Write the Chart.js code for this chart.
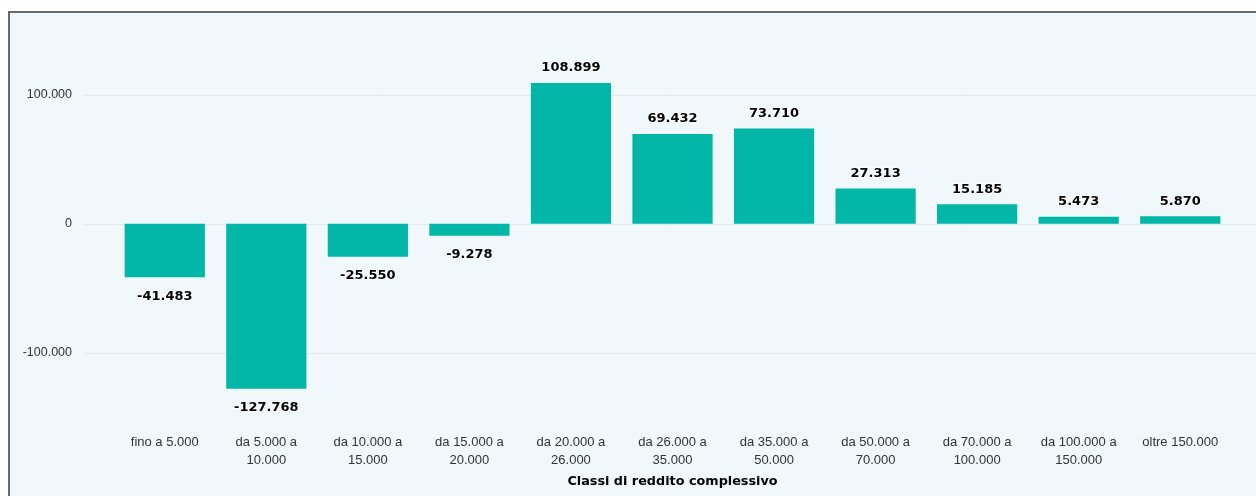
<!DOCTYPE html>
<html>
<head>
<meta charset="utf-8">
<script src="https://cdn.jsdelivr.net/npm/chart.js@4/dist/chart.umd.min.js"></script>
<style>
  html, body { margin: 0; padding: 0; background: #ffffff; overflow: hidden; }
  #frame {
    position: absolute; left: 8px; top: 11px; width: 1300px; height: 520px;
    background: #f0f8fc; border-left: 2px solid #6a6a6a; border-top: 2px solid #6a6a6a;
  }
  #wrap { position: absolute; left: 0; top: 0; width: 1256px; height: 496px; }
</style>
</head>
<body>
<div id="frame"></div>
<div id="wrap"><canvas id="myChart" width="1256" height="496"></canvas></div>
<script>
// Income classes (x axis)
var classLabels = [
    ['fino a 5.000'],
    ['da 5.000 a', '10.000'],
    ['da 10.000 a', '15.000'],
    ['da 15.000 a', '20.000'],
    ['da 20.000 a', '26.000'],
    ['da 26.000 a', '35.000'],
    ['da 35.000 a', '50.000'],
    ['da 50.000 a', '70.000'],
    ['da 70.000 a', '100.000'],
    ['da 100.000 a', '150.000'],
    ['oltre 150.000']
];
// Values per class
var values = [-41483, -127768, -25550, -9278, 108899, 69432, 73710, 27313, 15185, 5473, 5870];
// Y ticks shown
var yTicks = [-100000, 0, 100000];

function fmt(v) {
    var s = Math.abs(Math.round(v)).toString().replace(/\B(?=(\d{3})+(?!\d))/g, '.');
    return (v < 0 ? '-' : '') + s;
}

// horizontal grid lines, running past the plot on both sides
var gridPlugin = {
    id: 'gridLines',
    beforeDatasetsDraw: function(chart) {
        var c = chart.ctx, y = chart.scales.y;
        c.save();
        c.strokeStyle = '#e4e8ea';
        c.lineWidth = 1;
        yTicks.forEach(function(t) {
            var py = Math.round(y.getPixelForValue(t)) + 0.5;
            c.beginPath();
            c.moveTo(chart.chartArea.left - 29, py);
            c.lineTo(chart.width, py);
            c.stroke();
        });
        c.restore();
    }
};

// value labels above/below each bar
var labelPlugin = {
    id: 'valueLabels',
    afterDatasetsDraw: function(chart) {
        var c = chart.ctx;
        var meta = chart.getDatasetMeta(0);
        c.save();
        c.font = 'bold 13px "DejaVu Sans", sans-serif';
        c.textAlign = 'center';
        c.textBaseline = 'middle';
        c.lineJoin = 'round';
        meta.data.forEach(function(bar, i) {
            var v = values[i];
            var ty = v >= 0 ? bar.y - 15 : bar.y + 19;
            var txt = fmt(v);
            c.strokeStyle = 'rgba(255,255,255,0.9)';
            c.lineWidth = 2;
            c.strokeText(txt, bar.x, ty);
            c.fillStyle = '#000000';
            c.fillText(txt, bar.x, ty);
        });
        c.restore();
    }
};

var ctx = document.getElementById('myChart').getContext('2d');

var chartConfig = {
    type: 'bar',
    data: {
        labels: classLabels,
        datasets: [{
            data: values,
            backgroundColor: '#02b6a8',
            borderWidth: 0,
            barPercentage: 0.79,
            categoryPercentage: 1.0
        }]
    },
    options: {
        responsive: false,
        animation: false,
        layout: { padding: { top: 30, right: 25, left: 0, bottom: 0 } },
        plugins: {
            legend: { display: false },
            tooltip: { enabled: false }
        },
        scales: {
            x: {
                grid: { display: false, drawTicks: false },
                border: { display: false },
                ticks: {
                    color: '#333333',
                    padding: 10,
                    maxRotation: 0,
                    autoSkip: false,
                    font: { family: '"Liberation Sans", Arial, sans-serif', size: 13, lineHeight: 1.35 }
                },
                title: {
                    display: true,
                    text: 'Classi di reddito complessivo',
                    color: '#000000',
                    padding: { top: 4, bottom: 7 },
                    font: { family: '"DejaVu Sans", sans-serif', size: 12.8, weight: 'bold' }
                },
                afterFit: function(scale) { scale.height = 72; }
            },
            y: {
                min: -155000,
                max: 150000,
                grid: { display: false, drawTicks: false },
                border: { display: false },
                afterBuildTicks: function(scale) {
                    scale.ticks = yTicks.map(function(v) { return { value: v }; });
                },
                ticks: {
                    color: '#333333',
                    padding: 42,
                    font: { family: '"Liberation Sans", Arial, sans-serif', size: 12.5 },
                    callback: function(v) { return fmt(v); }
                },
                afterFit: function(scale) {
                    scale.width = 114;
                    scale.paddingTop = 0;
                    scale.paddingBottom = 0;
                }
            }
        }
    },
    plugins: [gridPlugin, labelPlugin]
};

var chart = new Chart(ctx, chartConfig);
</script>
</body>
</html>
